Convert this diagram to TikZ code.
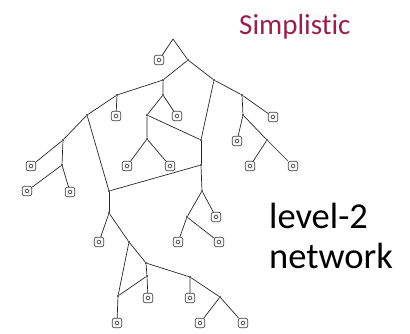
\documentclass[tikz,border=0pt]{standalone}
\usepackage{fontspec}
\setmainfont[Ligatures={NoCommon}]{Carlito}
\usetikzlibrary{positioning}
\definecolor{simpred}{RGB}{152,32,74}
\tikzset{
  inner/.style={circle,fill=black!85,inner sep=0pt,minimum size=2.4pt},
  leaf/.style={draw=black!75,line width=.7pt,rounded corners=2.2pt,minimum size=9.5pt,inner sep=0pt,
    path picture={\draw[black!70,line width=.5pt] (path picture bounding box.center) +(-1.8pt,-1.8pt) rectangle +(1.8pt,1.8pt);}},
  edge/.style={draw=black!85,line width=.7pt}
}
\begin{document}
\begin{tikzpicture}[x=1pt,y=-1pt]
	\useasboundingbox (0,0) rectangle (410,333);
	% tree vertices
	\coordinate (root) at (173,39);
	\node [inner] (n1) at (188,60) {};
	\node [inner] (n2) at (163,80) {};
	\node [inner] (n3) at (214,80) {};
	\node [inner] (n4) at (117,95) {};
	\node [inner] (n5) at (87,115) {};
	\node [inner] (n6) at (163,95) {};
	\node [inner] (n7) at (147,115) {};
	\node [inner] (n8) at (242,95) {};
	\node [inner] (n9) at (243,115) {};
	\node [inner] (n10) at (267,140) {};
	\node [inner] (n11) at (201,140) {};
	\node [inner] (n12) at (147,139) {};
	\node [inner] (n13) at (201,165) {};
	\node [inner] (n14) at (63,140) {};
	\node [inner] (n15) at (62,165) {};
	\node [inner] (n16) at (109,191) {};
	\node [inner] (n17) at (202,191) {};
	\node [inner] (n18) at (109,213) {};
	\node [inner] (n19) at (129,242) {};
	\node [inner] (n20) at (146,263) {};
	\node [inner] (n21) at (147,276) {};
	\node [inner] (n22) at (118,296) {};
	\node [inner] (n23) at (190,277) {};
	\node [inner] (n24) at (220,297) {};
	\node [inner] (n25) at (187,217) {};
	% leaves
	\node [leaf] (l1) at (159,60) {};
	\node [leaf] (l2) at (116,116) {};
	\node [leaf] (l3) at (177,116) {};
	\node [leaf] (l4) at (273,117) {};
	\node [leaf] (l5) at (237,141) {};
	\node [leaf] (l6) at (250,166) {};
	\node [leaf] (l7) at (293,166) {};
	\node [leaf] (l8) at (127,166) {};
	\node [leaf] (l9) at (170,166) {};
	\node [leaf] (l10) at (31,166) {};
	\node [leaf] (l11) at (27,191) {};
	\node [leaf] (l12) at (70,192) {};
	\node [leaf] (l13) at (216,217) {};
	\node [leaf] (l14) at (178,242) {};
	\node [leaf] (l15) at (219,242) {};
	\node [leaf] (l16) at (99,242) {};
	\node [leaf] (l17) at (148,298) {};
	\node [leaf] (l18) at (117,323) {};
	\node [leaf] (l19) at (190,298) {};
	\node [leaf] (l20) at (200,323) {};
	\node [leaf] (l21) at (243,323) {};
	% edges
	\path [edge] (root) -- (l1) (root) -- (n1);
	\path [edge] (n1) -- (n2) (n1) -- (n3);
	\path [edge] (n2) -- (n4) (n2) -- (n6);
	\path [edge] (n4) -- (l2) (n4) -- (n5);
	\path [edge] (n5) -- (n14) (n5) -- (n16);
	\path [edge] (n14) -- (l10) (n14) -- (n15);
	\path [edge] (n15) -- (l11) (n15) -- (l12);
	\path [edge] (n6) -- (n7) (n6) -- (l3);
	\path [edge] (n7) -- (n12) (n7) -- (n11);
	\path [edge] (n12) -- (l8) (n12) -- (l9);
	\path [edge] (n3) -- (n11) (n3) -- (n8);
	\path [edge] (n8) -- (l4) (n8) -- (n9);
	\path [edge] (n9) -- (l5) (n9) -- (n10);
	\path [edge] (n10) -- (l6) (n10) -- (l7);
	\path [edge] (n11) -- (n13);
	\path [edge] (n13) -- (n16) (n13) -- (n17);
	\path [edge] (n17) -- (n25) (n17) -- (l13);
	\path [edge] (n25) -- (l14) (n25) -- (l15);
	\path [edge] (n16) -- (n18);
	\path [edge] (n18) -- (l16) (n18) -- (n19);
	\path [edge] (n19) -- (n20) (n19) -- (n22);
	\path [edge] (n20) -- (n21) (n20) -- (n23);
	\path [edge] (n21) -- (l17) (n21) -- (n22);
	\path [edge] (n22) -- (l18);
	\path [edge] (n23) -- (l19) (n23) -- (n24);
	\path [edge] (n24) -- (l20) (n24) -- (l21);
	% captions
	\node [anchor=base west,inner sep=0pt,text=simpred,font=\fontsize{29}{29}\selectfont] (title) at (239,34) {Simplistic};
	\node [anchor=base west,inner sep=0pt,font=\fontsize{36.5}{36.5}\selectfont] (lvl) at (269,228) {level-2};
	\node [anchor=base west,inner sep=0pt,font=\fontsize{36.5}{36.5}\selectfont] (net) at (269,268) {network};
\end{tikzpicture}
\end{document}
